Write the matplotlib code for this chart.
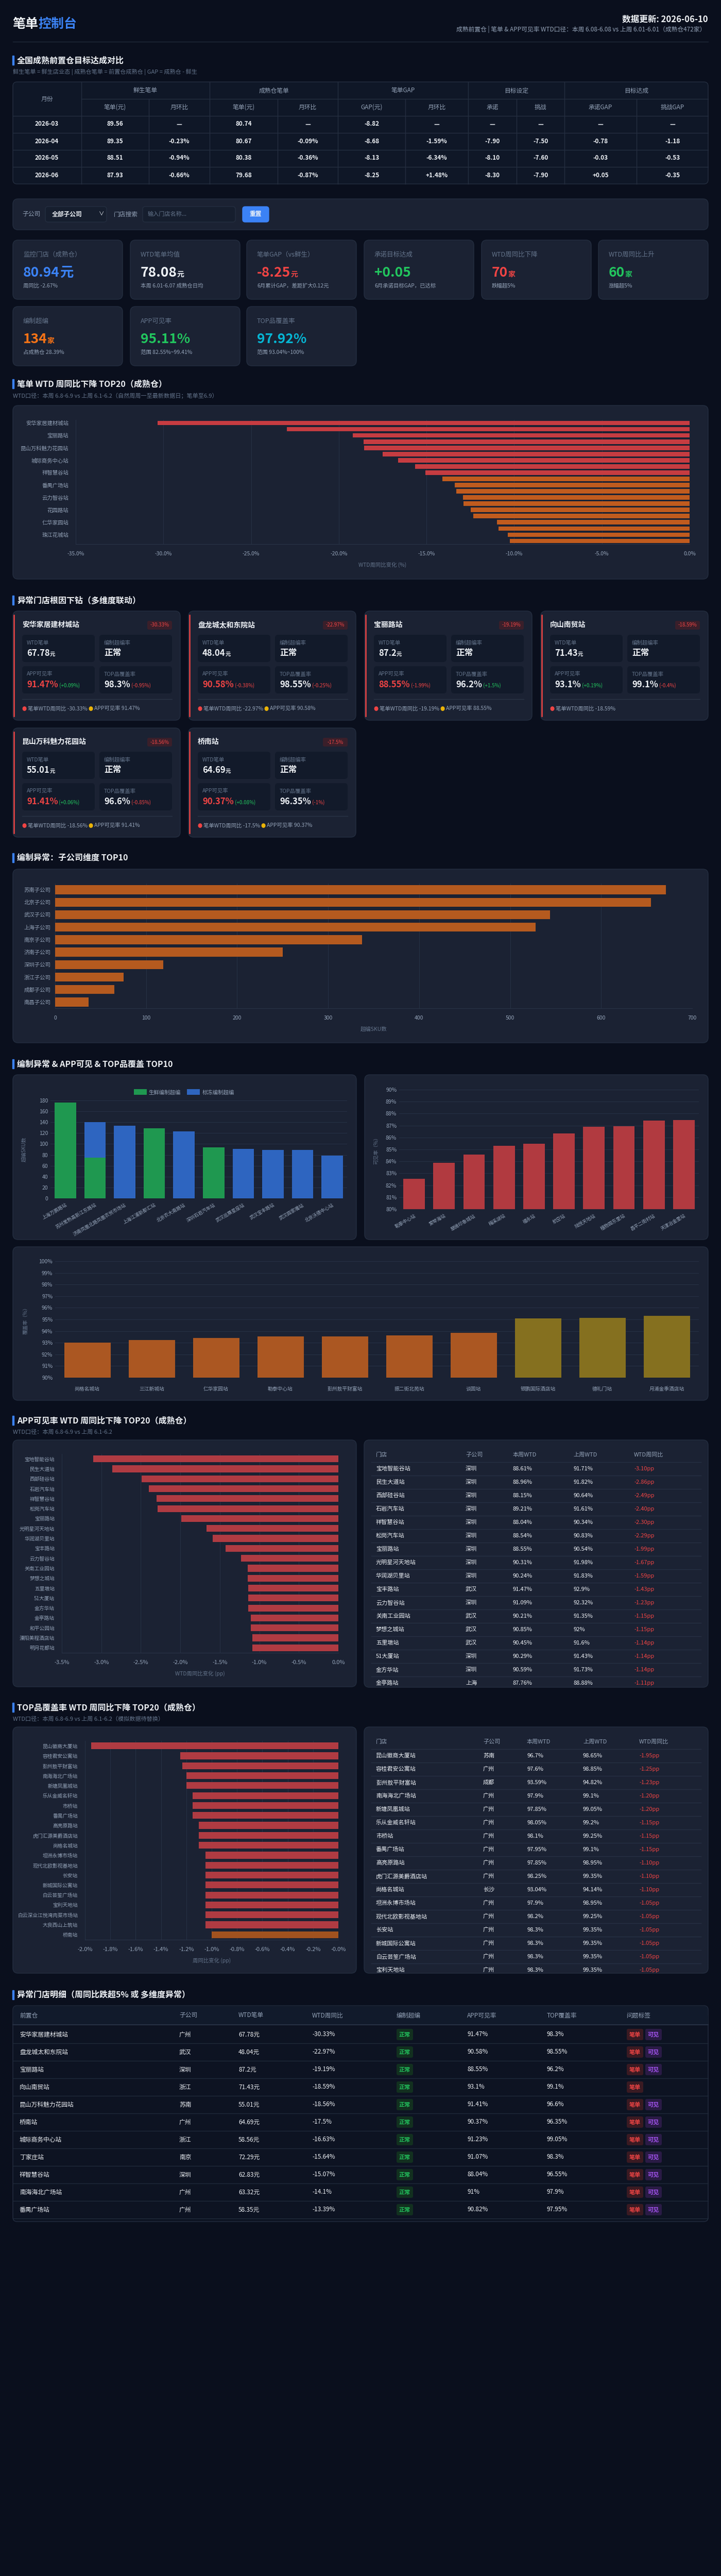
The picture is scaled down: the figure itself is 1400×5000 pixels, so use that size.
import numpy as np
import matplotlib
matplotlib.use('Agg')
import matplotlib.pyplot as plt
from matplotlib.patches import FancyBboxPatch, Rectangle
from matplotlib.ticker import FuncFormatter

plt.rcParams['font.family'] = ['Noto Sans CJK SC', 'DejaVu Sans']
plt.rcParams['axes.unicode_minus'] = False

# ---------------- data ----------------
months = ['2026-03', '2026-04', '2026-05', '2026-06']
fresh_ticket = [89.56, 89.35, 88.51, 87.93]
mature_ticket = [80.74, 80.67, 80.38, 79.68]
ticket_gap = [-8.82, -8.68, -8.13, -8.25]
target_commit = [None, -7.90, -8.10, -8.30]
target_challenge = [None, -7.50, -7.60, -7.90]

kpi_labels = ['监控门店（成熟仓）', 'WTD笔单均值', '笔单GAP（vs鲜生）', '承诺目标达成',
              'WTD周同比下降', 'WTD周同比上升', '编制超编', 'APP可见率', 'TOP品覆盖率']
kpi_values = ['80.94', '78.08', '-8.25', '+0.05', '70', '60', '134', '95.11%', '97.92%']
kpi_units = ['元', '元', '元', '', '家', '家', '家', '', '']
kpi_subs = ['周同比 -2.67%', '本周 6.01-6.07 成熟仓日均', '6月累计GAP，差距扩大0.12元',
            '6月承诺目标GAP，已达标', '跌幅超5%', '涨幅超5%', '占成熟仓 28.39%',
            '范围 82.55%~99.41%', '范围 93.04%~100%']

drop_names = ['安华家居建材城站', '盘龙城太和东院站', '宝丽路站', '向山南贸站', '昆山万科魅力花园站',
              '桥南站', '城际商务中心站', '丁家庄站', '祥智慧谷站', '南海海北广场站',
              '番禺广场站', '金方华站', '云力智谷站', '宝丰路站', '花园路站',
              '五里墩站', '仁华家园站', '民生大道站', '珠江花城站', '松岗汽车站']
drop_vals = [-30.33, -22.97, -19.19, -18.59, -18.56, -17.5, -16.63, -15.64, -15.07, -14.1,
             -13.39, -13.29, -12.93, -12.9, -12.48, -12.32, -10.99, -10.88, -10.36, -10.25]

card_names = ['安华家居建材城站', '盘龙城太和东院站', '宝丽路站', '向山南贸站', '昆山万科魅力花园站', '桥南站']
card_chg = [-30.33, -22.97, -19.19, -18.59, -18.56, -17.5]
card_ticket = ['67.78', '48.04', '87.2', '71.43', '55.01', '64.69']
card_status = ['正常'] * 6
card_app = [91.47, 90.58, 88.55, 93.1, 91.41, 90.37]
card_app_chg = [0.09, -0.38, -1.99, 0.19, 0.06, 0.08]
card_top = [98.3, 98.55, 96.2, 99.1, 96.6, 96.35]
card_top_chg = [-0.95, -0.25, 1.5, -0.4, -0.85, -1]

sub_names = ['苏南子公司', '北京子公司', '武汉子公司', '上海子公司', '南京子公司',
             '济南子公司', '深圳子公司', '浙江子公司', '成都子公司', '南昌子公司']
sub_over = [671, 655, 544, 528, 337, 250, 119, 75, 65, 37]

stack_names = ['上海万鹏路站', '苏州常熟高新江东路站', '济南凤凰北路凤凰农贸市场站', '上海江浦新都汇站',
               '北京农大南路站', '深圳石岩汽车站', '武汉巡展星座站', '武汉宝丰路站', '武汉园家嘴站', '北京沃德中心站']
stack_fresh = [176, 75, 0, 129, 0, 94, 0, 0, 0, 0]
stack_frozen = [0, 65, 134, 0, 123, 0, 91, 89, 89, 79]

app_low_names = ['勒泰中心站', '爱琴海站', '翠微印象城站', '梅溪湖站', '福永站',
                 '航空站', '陆悦天地站', '植物园东里站', '昌平二街村站', '天津冶金里站']
app_low_vals = [82.55, 83.88, 84.57, 85.30, 85.49, 86.33, 86.89, 86.93, 87.41, 87.47]

cov_low_names = ['尚格名城站', '三江新城站', '仁华家园站', '勒泰中心站', '彭州敖平财富站',
                 '振二街北苑站', '谈固站', '银鹏国际酒店站', '德礼门站', '月浦金季酒店站']
cov_low_vals = [93.01, 93.21, 93.39, 93.54, 93.55, 93.64, 93.86, 95.07, 95.13, 95.33]

app_names = ['宝地智能谷站', '民生大道站', '西部硅谷站', '石岩汽车站', '祥智慧谷站', '松岗汽车站',
             '宝丽路站', '光明星河天地站', '华润湖贝里站', '宝丰路站', '云力智谷站', '关南工业园站',
             '梦想之城站', '五里墩站', '51大厦站', '金方华站', '金亭路站', '和平公园站',
             '溧阳美程酒店站', '明月花都站']
app_subs = ['深圳', '深圳', '深圳', '深圳', '深圳', '深圳', '深圳', '深圳', '深圳', '武汉', '深圳',
            '武汉', '武汉', '武汉', '深圳', '深圳', '上海', '上海', '苏南', '武汉']
app_this = ['88.61%', '88.96%', '88.15%', '89.21%', '88.04%', '88.54%', '88.55%', '90.31%', '90.24%',
            '91.47%', '91.09%', '90.21%', '90.85%', '90.45%', '90.29%', '90.59%', '87.76%', '89.12%',
            '90.5%', '91.2%']
app_last = ['91.71%', '91.82%', '90.64%', '91.61%', '90.34%', '90.83%', '90.54%', '91.98%', '91.83%',
            '92.9%', '92.32%', '91.35%', '92%', '91.6%', '91.43%', '91.73%', '88.88%', '90.23%',
            '91.59%', '92.29%']
app_chg = [-3.10, -2.86, -2.49, -2.40, -2.30, -2.29, -1.99, -1.67, -1.59, -1.43, -1.23, -1.15,
           -1.15, -1.14, -1.14, -1.14, -1.11, -1.11, -1.09, -1.09]

top_names = ['昆山徽商大厦站', '容桂君安公寓站', '彭州敖平财富站', '南海海北广场站', '新塘凤凰城站',
             '乐从金威名轩站', '市桥站', '番禺广场站', '高亮原路站', '虎门汇源美爵酒店站', '尚格名城站',
             '坦洲永博市场站', '现代北欧影视基地站', '长安站', '新城国际公寓站', '白云芸笙广场站',
             '宝利天地站', '白云深业江悦湾肉菜市场站', '大良西山上筑站', '桥南站']
top_subs = ['苏南', '广州', '成都', '广州', '广州', '广州', '广州', '广州', '广州', '广州', '长沙',
            '广州', '广州', '广州', '广州', '广州', '广州', '广州', '广州', '广州']
top_this = ['96.7%', '97.6%', '93.59%', '97.9%', '97.85%', '98.05%', '98.1%', '97.95%', '97.85%',
            '98.25%', '93.04%', '97.9%', '98.2%', '98.3%', '98.3%', '98.3%', '98.3%', '98.3%',
            '98.3%', '96.35%']
top_last = ['98.65%', '98.85%', '94.82%', '99.1%', '99.05%', '99.2%', '99.25%', '99.1%', '98.95%',
            '99.35%', '94.14%', '98.95%', '99.25%', '99.35%', '99.35%', '99.35%', '99.35%', '99.35%',
            '99.35%', '97.35%']
top_chg = [-1.95, -1.25, -1.23, -1.20, -1.20, -1.15, -1.15, -1.15, -1.10, -1.10, -1.10,
           -1.05, -1.05, -1.05, -1.05, -1.05, -1.05, -1.05, -1.05, -1.00]

det_names = ['安华家居建材城站', '盘龙城太和东院站', '宝丽路站', '向山南贸站', '昆山万科魅力花园站', '桥南站',
             '城际商务中心站', '丁家庄站', '祥智慧谷站', '南海海北广场站', '番禺广场站']
det_subs = ['广州', '武汉', '深圳', '浙江', '苏南', '广州', '浙江', '南京', '深圳', '广州', '广州']
det_ticket = ['67.78', '48.04', '87.2', '71.43', '55.01', '64.69', '58.56', '72.29', '62.83', '63.32', '58.35']
det_chg = ['-30.33', '-22.97', '-19.19', '-18.59', '-18.56', '-17.5', '-16.63', '-15.64', '-15.07', '-14.1', '-13.39']
det_status = ['正常'] * 11
det_app = ['91.47', '90.58', '88.55', '93.1', '91.41', '90.37', '91.23', '91.07', '88.04', '91', '90.82']
det_top = ['98.3', '98.55', '96.2', '99.1', '96.6', '96.35', '99.05', '98.3', '96.55', '97.9', '97.95']

# ---------------- style ----------------
BG = '#0a0f1d'
PANEL = '#1b2233'
BORDER = '#242e40'
INNER = '#121a2a'
WHITE = '#eef2f7'
GRAY = '#94a3b8'
DIM = '#64748b'
GRID = '#273246'
RED = '#ef4444'
GREEN = '#22c55e'
BLUE = '#3b82f6'
ORANGE = '#f97316'
CYAN = '#06b6d4'
YELLOW = '#eab308'
PURPLE = '#a855f7'

W, H = 1400, 5000
fig = plt.figure(figsize=(W / 100, H / 100), dpi=100, facecolor=BG)
bg = fig.add_axes([0, 0, 1, 1])
bg.set_xlim(0, W)
bg.set_ylim(H, 0)
bg.axis('off')
renderer = fig.canvas.get_renderer()


def box(x0, y0, x1, y1, fc=PANEL, ec=BORDER, r=10, lw=1, z=1):
    p = FancyBboxPatch((x0, y0), x1 - x0, y1 - y0, boxstyle=f'round,pad=0,rounding_size={r}',
                       fc=fc, ec=ec, lw=lw, zorder=z)
    bg.add_patch(p)
    return p


def txt(x, y, s, size=8, color=WHITE, weight='normal', ha='left', va='center', z=5, clip=None):
    t = bg.text(x, y, s, fontsize=size, color=color, fontweight=weight, ha=ha, va=va, zorder=z)
    if clip is not None:
        t.set_clip_path(clip)
    return t


def rich(x, y, parts, va='baseline'):
    for s, size, color, weight in parts:
        t = txt(x, y, s, size, color, weight, va=va)
        x += t.get_window_extent(renderer).width
    return x


def hline(y, x0, x1, color=BORDER, lw=1, clip=None):
    ln, = bg.plot([x0, x1], [y, y], color=color, lw=lw, zorder=3)
    if clip is not None:
        ln.set_clip_path(clip)


def vline(x, y0, y1, color=BORDER, lw=1):
    bg.plot([x, x], [y0, y1], color=color, lw=lw, zorder=3)


def section(y, title, sub=None, sub_y=None):
    bg.add_patch(Rectangle((24, y - 9), 2.5, 18, color=BLUE, zorder=3))
    txt(33, y, title, 11.5, WHITE, 'bold')
    if sub:
        txt(25, sub_y, sub, 8, DIM)


def chart_ax(x0, y0, x1, y1):
    ax = fig.add_axes([x0 / W, 1 - y1 / H, (x1 - x0) / W, (y1 - y0) / H])
    ax.set_facecolor('none')
    for s in ax.spines.values():
        s.set_visible(False)
    ax.tick_params(colors=GRAY, labelsize=7.5, length=0)
    ax.set_axisbelow(True)
    return ax


def pct_change(vals, i):
    if i == 0:
        return '—'
    return f'{(vals[i] - vals[i - 1]) / vals[i - 1] * 100:+.2f}%'


# ---------------- header ----------------
rich(24, 47, [('笔单', 18, WHITE, 'bold'), ('控制台', 18, BLUE, 'bold')], va='center')
txt(1375, 37, '数据更新: 2026-06-10', 12, WHITE, 'bold', ha='right')
txt(1370, 57, '成熟前置仓 | 笔单 & APP可见率 WTD口径：本周 6.08-6.08 vs 上周 6.01-6.01（成熟仓472家）',
    8.5, GRAY, ha='right')
hline(81, 25, 1375, color='#1f293a')

section(117, '全国成熟前置仓目标达成对比', '鲜生笔单 = 鲜生店业态 | 成熟仓笔单 = 前置仓成熟仓 | GAP = 成熟仓 - 鲜生', 140)

# target table
box(25, 159, 1375, 357, fc='#0f1727', ec=BORDER, r=8)
group_edges = [158, 407, 656, 909, 1096, 1375]
sub_edges = [289, 539, 787, 1003, 1236]
groups = ['鲜生笔单', '成熟仓笔单', '笔单GAP', '目标设定', '目标达成']
sub_heads = ['笔单(元)', '月环比', '笔单(元)', '月环比', 'GAP(元)', '月环比', '承诺', '挑战', '承诺GAP', '挑战GAP']
col_edges = sorted(group_edges + sub_edges)
hline(192, 158, 1375)
for yy in [225, 258, 291, 324]:
    hline(yy, 25, 1375)
for xx in group_edges[:-1]:
    vline(xx, 159, 357)
for xx in sub_edges:
    vline(xx, 192, 357)
txt(91, 192, '月份', 8.5, GRAY, ha='center')
for i, g in enumerate(groups):
    txt((group_edges[i] + group_edges[i + 1]) / 2, 176, g, 8.5, GRAY, ha='center')
for i, s in enumerate(sub_heads):
    txt((col_edges[i] + col_edges[i + 1]) / 2, 208, s, 8.5, GRAY, ha='center')

centers = [91] + [(col_edges[k] + col_edges[k + 1]) / 2 for k in range(10)]
for i, m in enumerate(months):
    yy = 241 + i * 33
    if target_commit[i] is None:
        tail = ['—', '—', '—', '—']
    else:
        tail = [f'{target_commit[i]:.2f}', f'{target_challenge[i]:.2f}',
                f'{ticket_gap[i] - target_commit[i]:+.2f}',
                f'{ticket_gap[i] - target_challenge[i]:+.2f}']
    cells = [m, f'{fresh_ticket[i]:.2f}', pct_change(fresh_ticket, i), f'{mature_ticket[i]:.2f}',
             pct_change(mature_ticket, i), f'{ticket_gap[i]:.2f}', pct_change(ticket_gap, i)] + tail
    for cx, c in zip(centers, cells):
        txt(cx, yy, c, 8.5, WHITE, 'bold', ha='center')

# ---------------- filter bar ----------------
box(25, 386, 1375, 446, fc=PANEL)
txt(43, 416, '子公司', 8.5, GRAY)
box(88, 401, 207, 431, fc='#161e2e', ec=BORDER, r=5, z=2)
txt(101, 416, '全部子公司', 8.5, WHITE, 'bold')
txt(197, 416, '∨', 7.5, WHITE, ha='center')
txt(221, 416, '门店搜索', 8.5, GRAY)
box(277, 401, 457, 431, fc='#161e2e', ec=BORDER, r=5, z=2)
txt(287, 416, '输入门店名称...', 8, DIM)
box(471, 401, 522, 431, fc=BLUE, ec=BLUE, r=5, z=2)
txt(496, 416, '重置', 8.5, WHITE, 'bold', ha='center')

# ---------------- KPI cards ----------------
kpi_colors = [BLUE, WHITE, RED, GREEN, RED, GREEN, ORANGE, GREEN, CYAN]
card_x = [25, 253, 479, 707, 935, 1162]
for i in range(len(kpi_labels)):
    cx = card_x[i % 6]
    top = 466 if i < 6 else 595
    box(cx, top, cx + 213, top + 115, fc=PANEL)
    txt(cx + 20, top + 28, kpi_labels[i], 9, DIM)
    usize = 19 if i == 0 else 10
    parts = [(kpi_values[i], 19, kpi_colors[i], 'bold')]
    if kpi_units[i]:
        parts.append((kpi_units[i], usize, kpi_colors[i], 'bold'))
    rich(cx + 20, top + 71, parts)
    txt(cx + 20, top + 89, kpi_subs[i], 7.5, GRAY)

# ---------------- TOP20 ticket drop ----------------
section(745, '笔单 WTD 周同比下降 TOP20（成熟仓）',
        'WTD口径：本周 6.8-6.9 vs 上周 6.1-6.2（自然周周一至最新数据日；笔单至6.9）', 768)
box(25, 787, 1375, 1124)
ax = chart_ax(147, 815, 1339, 1056)
yy = np.arange(len(drop_vals))
ax.barh(yy, drop_vals, height=0.72, color=['#c63c41' if v <= -15 else '#c05b1e' for v in drop_vals])
ax.set_xlim(-35, 0)
ax.set_ylim(len(yy) - 0.5, -0.5)
ax.set_xticks(np.arange(-35, 0.1, 5))
ax.xaxis.set_major_formatter(FuncFormatter(lambda v, p: f'{v:.1f}%'))
ax.set_yticks(yy[::2])
ax.set_yticklabels(drop_names[::2], fontsize=7.5)
ax.grid(axis='x', color=GRID, lw=0.7)
ax.spines['bottom'].set_visible(True)
ax.spines['bottom'].set_color('#2a3446')
ax.tick_params(axis='x', pad=10)
ax.tick_params(axis='y', pad=10)
ax.set_xlabel('WTD周同比变化 (%)', color=DIM, fontsize=7.5, labelpad=8)

# ---------------- store cards ----------------
section(1165, '异常门店根因下钻（多维度联动）')
sc_x = [25, 366, 708, 1050]
for i, name in enumerate(card_names):
    x0 = sc_x[i % 4]
    top = 1186 if i < 4 else 1413
    box(x0, top, x0 + 325, top + 212, fc=PANEL)
    bg.plot([x0 + 1.5, x0 + 1.5], [top + 8, top + 204], color=RED, lw=1.8, zorder=3)
    txt(x0 + 18, top + 27, name, 10, WHITE, 'bold')
    box(x0 + 261, top + 19, x0 + 309, top + 36, fc='#3a1f2a', ec='none', r=3, z=2)
    txt(x0 + 285, top + 27.5, f'{card_chg[i]}%', 7, RED, ha='center')
    for bx, by in [(18, 46), (168, 46), (18, 107), (168, 107)]:
        box(x0 + bx, top + by, x0 + bx + 141, top + by + 53, fc=INNER, ec='none', r=6, z=2)
    txt(x0 + 27, top + 62, 'WTD笔单', 7.5, DIM)
    rich(x0 + 27, top + 87, [(card_ticket[i], 12, WHITE, 'bold'), ('元', 7.5, WHITE, 'bold')])
    txt(x0 + 177, top + 62, '编制超编率', 7.5, DIM)
    txt(x0 + 177, top + 81, card_status[i], 12, WHITE, 'bold')
    txt(x0 + 27, top + 123, 'APP可见率', 7.5, DIM)
    rich(x0 + 27, top + 148, [(f'{card_app[i]}%', 12, RED if card_app[i] < 92 else WHITE, 'bold'),
                              (f' ({card_app_chg[i]:+g}%)', 7, GREEN if card_app_chg[i] > 0 else RED, 'normal')])
    txt(x0 + 177, top + 123, 'TOP品覆盖率', 7.5, DIM)
    rich(x0 + 177, top + 148, [(f'{card_top[i]}%', 12, WHITE, 'bold'),
                               (f' ({card_top_chg[i]:+g}%)', 7, GREEN if card_top_chg[i] > 0 else RED, 'normal')])
    hline(top + 171, x0 + 18, x0 + 309, color='#2a3446')
    parts = [('● ', 6.5, RED, 'normal'), (f'笔单WTD周同比 {card_chg[i]}%', 7.5, GRAY, 'normal')]
    if card_app[i] < 92:
        parts += [(' ● ', 6.5, YELLOW, 'normal'), (f'APP可见率 {card_app[i]}%', 7.5, GRAY, 'normal')]
    rich(x0 + 18, top + 193, parts)

# ---------------- subsidiary ranking ----------------
section(1665, '编制异常：子公司维度 TOP10')
box(25, 1687, 1375, 2024)
ax = chart_ax(107, 1715, 1344, 1957)
yy = np.arange(len(sub_over))
ax.barh(yy, sub_over, height=0.72, color='#b55a1f')
ax.set_xlim(0, 700)
ax.set_ylim(len(yy) - 0.5, -0.5)
ax.set_xticks(np.arange(0, 701, 100))
ax.set_yticks(yy)
ax.set_yticklabels(sub_names, fontsize=7.5)
ax.grid(axis='x', color=GRID, lw=0.7)
ax.spines['bottom'].set_visible(True)
ax.spines['bottom'].set_color('#2a3446')
ax.tick_params(axis='x', pad=10)
ax.tick_params(axis='y', pad=6)
ax.set_xlabel('超编SKU数', color=DIM, fontsize=7.5, labelpad=8)

# ---------------- top10 charts ----------------
section(2065, '编制异常 & APP可见 & TOP品覆盖 TOP10')
box(25, 2086, 692, 2406)
box(708, 2086, 1375, 2406)
box(25, 2420, 1375, 2718)

ax = chart_ax(98, 2136, 674, 2326)
xx = np.arange(len(stack_names))
ax.bar(xx, stack_fresh, width=0.72, color='#1f9850', label='生鲜编制超编')
ax.bar(xx, stack_frozen, width=0.72, bottom=stack_fresh, color='#2e65c0', label='标冻编制超编')
ax.set_ylim(0, 180)
ax.set_xlim(-0.5, len(xx) - 0.5)
ax.set_yticks(np.arange(0, 181, 20))
ax.set_xticks(xx)
ax.set_xticklabels(stack_names, rotation=30, ha='right', rotation_mode='anchor', fontsize=6.5)
ax.grid(axis='y', color=GRID, lw=0.7)
ax.tick_params(axis='x', pad=6)
ax.set_ylabel('超编SKU数', color=DIM, fontsize=7)
ax.yaxis.set_label_coords(-0.08, 0.5)
ax.legend(loc='center', bbox_to_anchor=(0.45, 1.085), ncol=2, frameon=False, fontsize=7.5,
          labelcolor=GRAY, handlelength=2.4, handleheight=1.2, columnspacing=1.2, handletextpad=0.4)

ax = chart_ax(775, 2115, 1357, 2347)
xx = np.arange(len(app_low_vals))
ax.bar(xx, app_low_vals, width=0.72, color='#b13a40')
ax.set_ylim(80, 90)
ax.set_xlim(-0.5, len(xx) - 0.5)
ax.set_yticks(np.arange(80, 90.1, 1))
ax.yaxis.set_major_formatter(FuncFormatter(lambda v, p: f'{v:.0f}%'))
ax.set_xticks(xx)
ax.set_xticklabels(app_low_names, rotation=30, ha='right', rotation_mode='anchor', fontsize=6.5)
ax.grid(axis='y', color=GRID, lw=0.7)
ax.tick_params(axis='x', pad=6)
ax.set_ylabel('可见率（%）', color=DIM, fontsize=7)
ax.yaxis.set_label_coords(-0.069, 0.5)

ax = chart_ax(107, 2448, 1357, 2674)
xx = np.arange(len(cov_low_vals))
ax.bar(xx, cov_low_vals, width=0.72, color=['#85701f' if v >= 95 else '#ab5722' for v in cov_low_vals])
ax.set_ylim(90, 100)
ax.set_xlim(-0.5, len(xx) - 0.5)
ax.set_yticks(np.arange(90, 100.1, 1))
ax.yaxis.set_major_formatter(FuncFormatter(lambda v, p: f'{v:.0f}%'))
ax.set_xticks(xx)
ax.set_xticklabels(cov_low_names, fontsize=7)
ax.grid(axis='y', color=GRID, lw=0.7)
ax.tick_params(axis='x', pad=12)
ax.set_ylabel('覆盖率（%）', color=DIM, fontsize=7)
ax.yaxis.set_label_coords(-0.042, 0.5)


# ---------------- side tables ----------------
def side_table(y0, y1, header_y, col_x, names, subs, this, last, chg):
    p = box(707, y0, 1375, y1, fc=PANEL)
    for cx, h in zip(col_x, ['门店', '子公司', '本周WTD', '上周WTD', 'WTD周同比']):
        txt(cx, header_y, h, 8, GRAY)
    hline(header_y + 14, 721, 1361, color='#263043')
    for i in range(len(names)):
        ry = header_y + 27 + i * 26
        if ry - 8 > y1:
            break
        vals = [names[i], subs[i], this[i], last[i]]
        for cx, v in zip(col_x, vals):
            txt(cx, ry, v, 8, WHITE, clip=p)
        txt(col_x[4], ry, f'{chg[i]:.2f}pp', 8, RED, clip=p)
        if ry + 13 < y1:
            hline(ry + 13, 721, 1361, color='#263043', clip=p)


section(2757, 'APP可见率 WTD 周同比下降 TOP20（成熟仓）', 'WTD口径：本周 6.8-6.9 vs 上周 6.1-6.2', 2780)
box(25, 2795, 692, 3274)
ax = chart_ax(120, 2822, 657, 3208)
yy = np.arange(len(app_chg))
ax.barh(yy, app_chg, height=0.68, color='#b03b42')
ax.set_xlim(-3.5, 0)
ax.set_ylim(len(yy) - 0.5, -0.5)
ax.set_xticks(np.arange(-3.5, 0.01, 0.5))
ax.xaxis.set_major_formatter(FuncFormatter(lambda v, p: f'{v:.1f}%'))
ax.set_yticks(yy)
ax.set_yticklabels(app_names, fontsize=7)
ax.grid(axis='x', color=GRID, lw=0.7)
ax.spines['bottom'].set_visible(True)
ax.spines['bottom'].set_color('#2a3446')
ax.tick_params(axis='x', pad=10, labelsize=8)
ax.tick_params(axis='y', pad=10)
ax.set_xlabel('WTD周同比变化 (pp)', color=DIM, fontsize=7.5, labelpad=8)
side_table(2795, 3275, 2824, [730, 904, 996, 1113, 1231], app_names, app_subs, app_this, app_last, app_chg)

section(3314, 'TOP品覆盖率 WTD 周同比下降 TOP20（成熟仓）',
        'WTD口径：本周 6.8-6.9 vs 上周 6.1-6.2（模拟数据待替换）', 3337)
box(25, 3352, 692, 3830)
ax = chart_ax(165, 3379, 657, 3765)
yy = np.arange(len(top_chg))
ax.barh(yy, top_chg, height=0.68, color=['#b03b42' if v <= -1.05 else '#a1521f' for v in top_chg])
ax.set_xlim(-2, 0)
ax.set_ylim(len(yy) - 0.5, -0.5)
ax.set_xticks(np.arange(-2, 0.01, 0.2))
ax.xaxis.set_major_formatter(FuncFormatter(lambda v, p: f'{v:.1f}%'))
ax.set_yticks(yy)
ax.set_yticklabels(top_names, fontsize=7)
ax.grid(axis='x', color=GRID, lw=0.7)
ax.spines['bottom'].set_visible(True)
ax.spines['bottom'].set_color('#2a3446')
ax.tick_params(axis='x', pad=10, labelsize=8)
ax.tick_params(axis='y', pad=10)
ax.set_xlabel('周同比变化 (pp)', color=DIM, fontsize=7.5, labelpad=8)
side_table(3352, 3830, 3381, [730, 938, 1023, 1132, 1241], top_names, top_subs, top_this, top_last, top_chg)

# ---------------- detail table ----------------
section(3872, '异常门店明细（周同比跌超5% 或 多维度异常）')
box(25, 3893, 1375, 4312, fc='#0d1322', ec=BORDER, r=8)
box(25.5, 3893.5, 1374.5, 3930, fc='#111a2b', ec='none', r=8, z=2)
bg.add_patch(Rectangle((25.5, 3912), 1349, 18, fc='#111a2b', ec='none', zorder=2))
hline(3930, 25, 1375, color='#263043', lw=1.5)
det_cols = [38, 348, 463, 606, 770, 907, 1062, 1217]
for cx, h in zip(det_cols, ['前置仓', '子公司', 'WTD笔单', 'WTD周同比', '编制超编', 'APP可见率', 'TOP覆盖率', '问题标签']):
    txt(cx, 3912, h, 8.5, GRAY)
for i, name in enumerate(det_names):
    ry = 3949 + i * 34
    txt(det_cols[0], ry, name, 8.5, WHITE)
    txt(det_cols[1], ry, det_subs[i], 8.5, WHITE)
    txt(det_cols[2], ry, det_ticket[i] + '元', 8.5, WHITE)
    txt(det_cols[3], ry, det_chg[i] + '%', 8.5, WHITE)
    box(770, ry - 11, 802, ry + 11, fc='#12301f', ec='none', r=3, z=2)
    txt(786, ry, det_status[i], 8, GREEN, 'bold', ha='center')
    txt(det_cols[5], ry, det_app[i] + '%', 8.5, WHITE)
    txt(det_cols[6], ry, det_top[i] + '%', 8.5, WHITE)
    box(1217, ry - 11, 1249, ry + 11, fc='#3a1a22', ec='none', r=3, z=2)
    txt(1233, ry, '笔单', 8, RED, 'bold', ha='center')
    if float(det_app[i]) < 92:
        box(1253, ry - 11, 1285, ry + 11, fc='#2a1b45', ec='none', r=3, z=2)
        txt(1269, ry, '可见', 8, PURPLE, 'bold', ha='center')
    hline(ry + 17, 25, 1375, color='#1f293a')

fig.savefig('out.png', dpi=100, facecolor=BG)
